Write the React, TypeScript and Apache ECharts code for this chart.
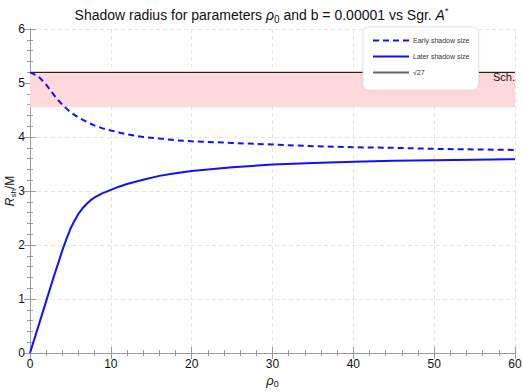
import React, { useEffect, useRef } from "react";
import * as echarts from "echarts";

const rho = [0, 1, 2, 3, 3.5, 4, 4.5, 5, 5.5, 6, 6.5, 7, 7.5, 8, 9, 10, 11, 12, 14, 16, 18, 20, 25, 30, 35, 40, 45, 50, 55, 60];
const earlyShadow = [5.196, 5.13, 4.97, 4.77, 4.68, 4.6, 4.53, 4.46, 4.41, 4.36, 4.32, 4.28, 4.245, 4.21, 4.16, 4.12, 4.085, 4.05, 4.0, 3.97, 3.94, 3.92, 3.89, 3.86, 3.83, 3.81, 3.8, 3.78, 3.77, 3.76];
const laterShadow = [0, 0.48, 0.96, 1.44, 1.67, 1.9, 2.11, 2.3, 2.45, 2.58, 2.68, 2.76, 2.83, 2.88, 2.96, 3.02, 3.08, 3.13, 3.21, 3.28, 3.33, 3.37, 3.44, 3.49, 3.52, 3.54, 3.56, 3.57, 3.58, 3.59];
const schRadius = 5.196;
const sgrBand = [4.55, 5.22];
const xRange = [0, 60];
const yRange = [0, 6];

const FONT = "Liberation Sans, Arial, sans-serif";

export default function App() {
  const ref = useRef<HTMLDivElement>(null);
  useEffect(() => {
    if (!ref.current) return;
    const chart = echarts.init(ref.current, undefined, { renderer: "svg" });
    const axisLine = { show: true, lineStyle: { color: "#9a9a9a", width: 1 } };
    const splitLine = { show: true, lineStyle: { color: "#e4e4e4", type: [4, 3] as any, width: 1 } };
    const tick = { show: true, inside: true, length: 6, lineStyle: { color: "#9a9a9a" } };
    const minor = { show: true, splitNumber: 5, length: 3, lineStyle: { color: "#9a9a9a" } };
    const option: any = {
      animation: false,
      textStyle: { fontFamily: FONT },
      title: {
        text: "{n|Shadow radius for parameters }{i|ρ}{s|0}{n| and b = 0.00001 vs Sgr. }{i|A}{p|*}",
        left: "center",
        top: 1,
        textStyle: {
          fontWeight: "normal",
          rich: {
            n: { fontSize: 14, color: "#111", fontFamily: FONT, fontWeight: "normal" },
            i: { fontSize: 14, color: "#111", fontStyle: "italic", fontFamily: FONT, fontWeight: "normal" },
            s: { fontSize: 10, color: "#111", fontFamily: FONT, fontWeight: "normal", padding: [8, 0, 0, 0] },
            p: { fontSize: 9, color: "#111", fontFamily: FONT, fontWeight: "normal", padding: [0, 0, 8, 0] },
          },
        },
      },
      grid: { left: 30, right: 8, top: 29, bottom: 39, outerBoundsMode: "none", containLabel: false },
      legend: {
        orient: "vertical",
        left: 363,
        top: 27,
        padding: [10, 9, 14, 9],
        backgroundColor: "#fff",
        borderColor: "#e6e6e6",
        borderWidth: 1,
        borderRadius: 6,
        shadowBlur: 2,
        shadowColor: "rgba(0,0,0,0.12)",
        itemWidth: 36,
        itemHeight: 8,
        itemGap: 9,
        itemStyle: { opacity: 0 },
        textStyle: { fontSize: 7, color: "#333", fontFamily: FONT, padding: [0, 0, 0, -1] },
        data: [
          { name: "Early shadow size" },
          { name: "Later shadow size" },
          { name: "√27", lineStyle: { color: "#666" } },
        ],
      },
      xAxis: [
        {
          type: "value",
          min: xRange[0],
          max: xRange[1],
          interval: 10,
          name: "{i|ρ}{s|0}",
          nameLocation: "middle",
          nameGap: 19,
          nameMoveOverlap: false,
          nameTextStyle: {
            rich: {
              i: { fontSize: 13, color: "#111", fontStyle: "italic", fontFamily: FONT },
              s: { fontSize: 9, color: "#111", fontFamily: FONT, padding: [7, 0, 0, 0] },
            },
          },
          axisLine,
          axisTick: tick,
          minorTick: minor,
          splitLine,
          axisLabel: { fontSize: 12, color: "#111", margin: 5, fontFamily: FONT },
        },
        {
          type: "value",
          position: "top",
          min: xRange[0],
          max: xRange[1],
          interval: 10,
          axisLine,
          axisTick: tick,
          minorTick: minor,
          splitLine: { show: false },
          axisLabel: { show: false },
        },
      ],
      yAxis: [
        {
          type: "value",
          min: yRange[0],
          max: yRange[1],
          interval: 1,
          name: "{i|R}{s|sh}{n|/M}",
          nameLocation: "middle",
          nameGap: 13,
          nameMoveOverlap: false,
          nameRotate: 90,
          nameTextStyle: {
            rich: {
              i: { fontSize: 12, color: "#111", fontStyle: "italic", fontFamily: FONT },
              s: { fontSize: 8, color: "#111", fontFamily: FONT, padding: [6, 0, 0, 0] },
              n: { fontSize: 12, color: "#111", fontFamily: FONT },
            },
          },
          axisLine,
          axisTick: tick,
          minorTick: minor,
          splitLine,
          axisLabel: { fontSize: 12, color: "#111", margin: 5, fontFamily: FONT },
        },
        {
          type: "value",
          position: "right",
          min: yRange[0],
          max: yRange[1],
          interval: 1,
          axisLine,
          axisTick: tick,
          minorTick: minor,
          splitLine: { show: false },
          axisLabel: { show: false },
        },
      ],
      series: [
        {
          name: "√27",
          type: "line",
          symbol: "none",
          data: [[xRange[0], schRadius], [xRange[1], schRadius]],
          lineStyle: { color: "#111", width: 1 },
          itemStyle: { color: "#111" },
          z: 3,
          markArea: {
            silent: true,
            itemStyle: { color: "#ffd9d9" },
            data: [[{ yAxis: sgrBand[0] }, { yAxis: sgrBand[1] }]],
          },
        },
        {
          name: "Early shadow size",
          type: "line",
          symbol: "none",
          data: rho.map((r, i) => [r, earlyShadow[i]]),
          lineStyle: { color: "#1010ff", width: 2, type: [6, 4] },
          itemStyle: { color: "#1010ff" },
          z: 4,
        },
        {
          name: "Later shadow size",
          type: "line",
          symbol: "none",
          data: rho.map((r, i) => [r, laterShadow[i]]),
          lineStyle: { color: "#1010ff", width: 2 },
          itemStyle: { color: "#1010ff" },
          z: 4,
        },
      ],
      graphic: [
        {
          type: "text",
          right: 8,
          top: 71,
          style: { text: "Sch.", fontSize: 11, fill: "#111", fontFamily: FONT },
          z: 10,
        },
      ],
    };
    chart.setOption(option);
    return () => chart.dispose();
  }, []);
  return <div ref={ref} style={{ position: "absolute", left: 0, top: 0, width: 523, height: 392 }} />;
}
